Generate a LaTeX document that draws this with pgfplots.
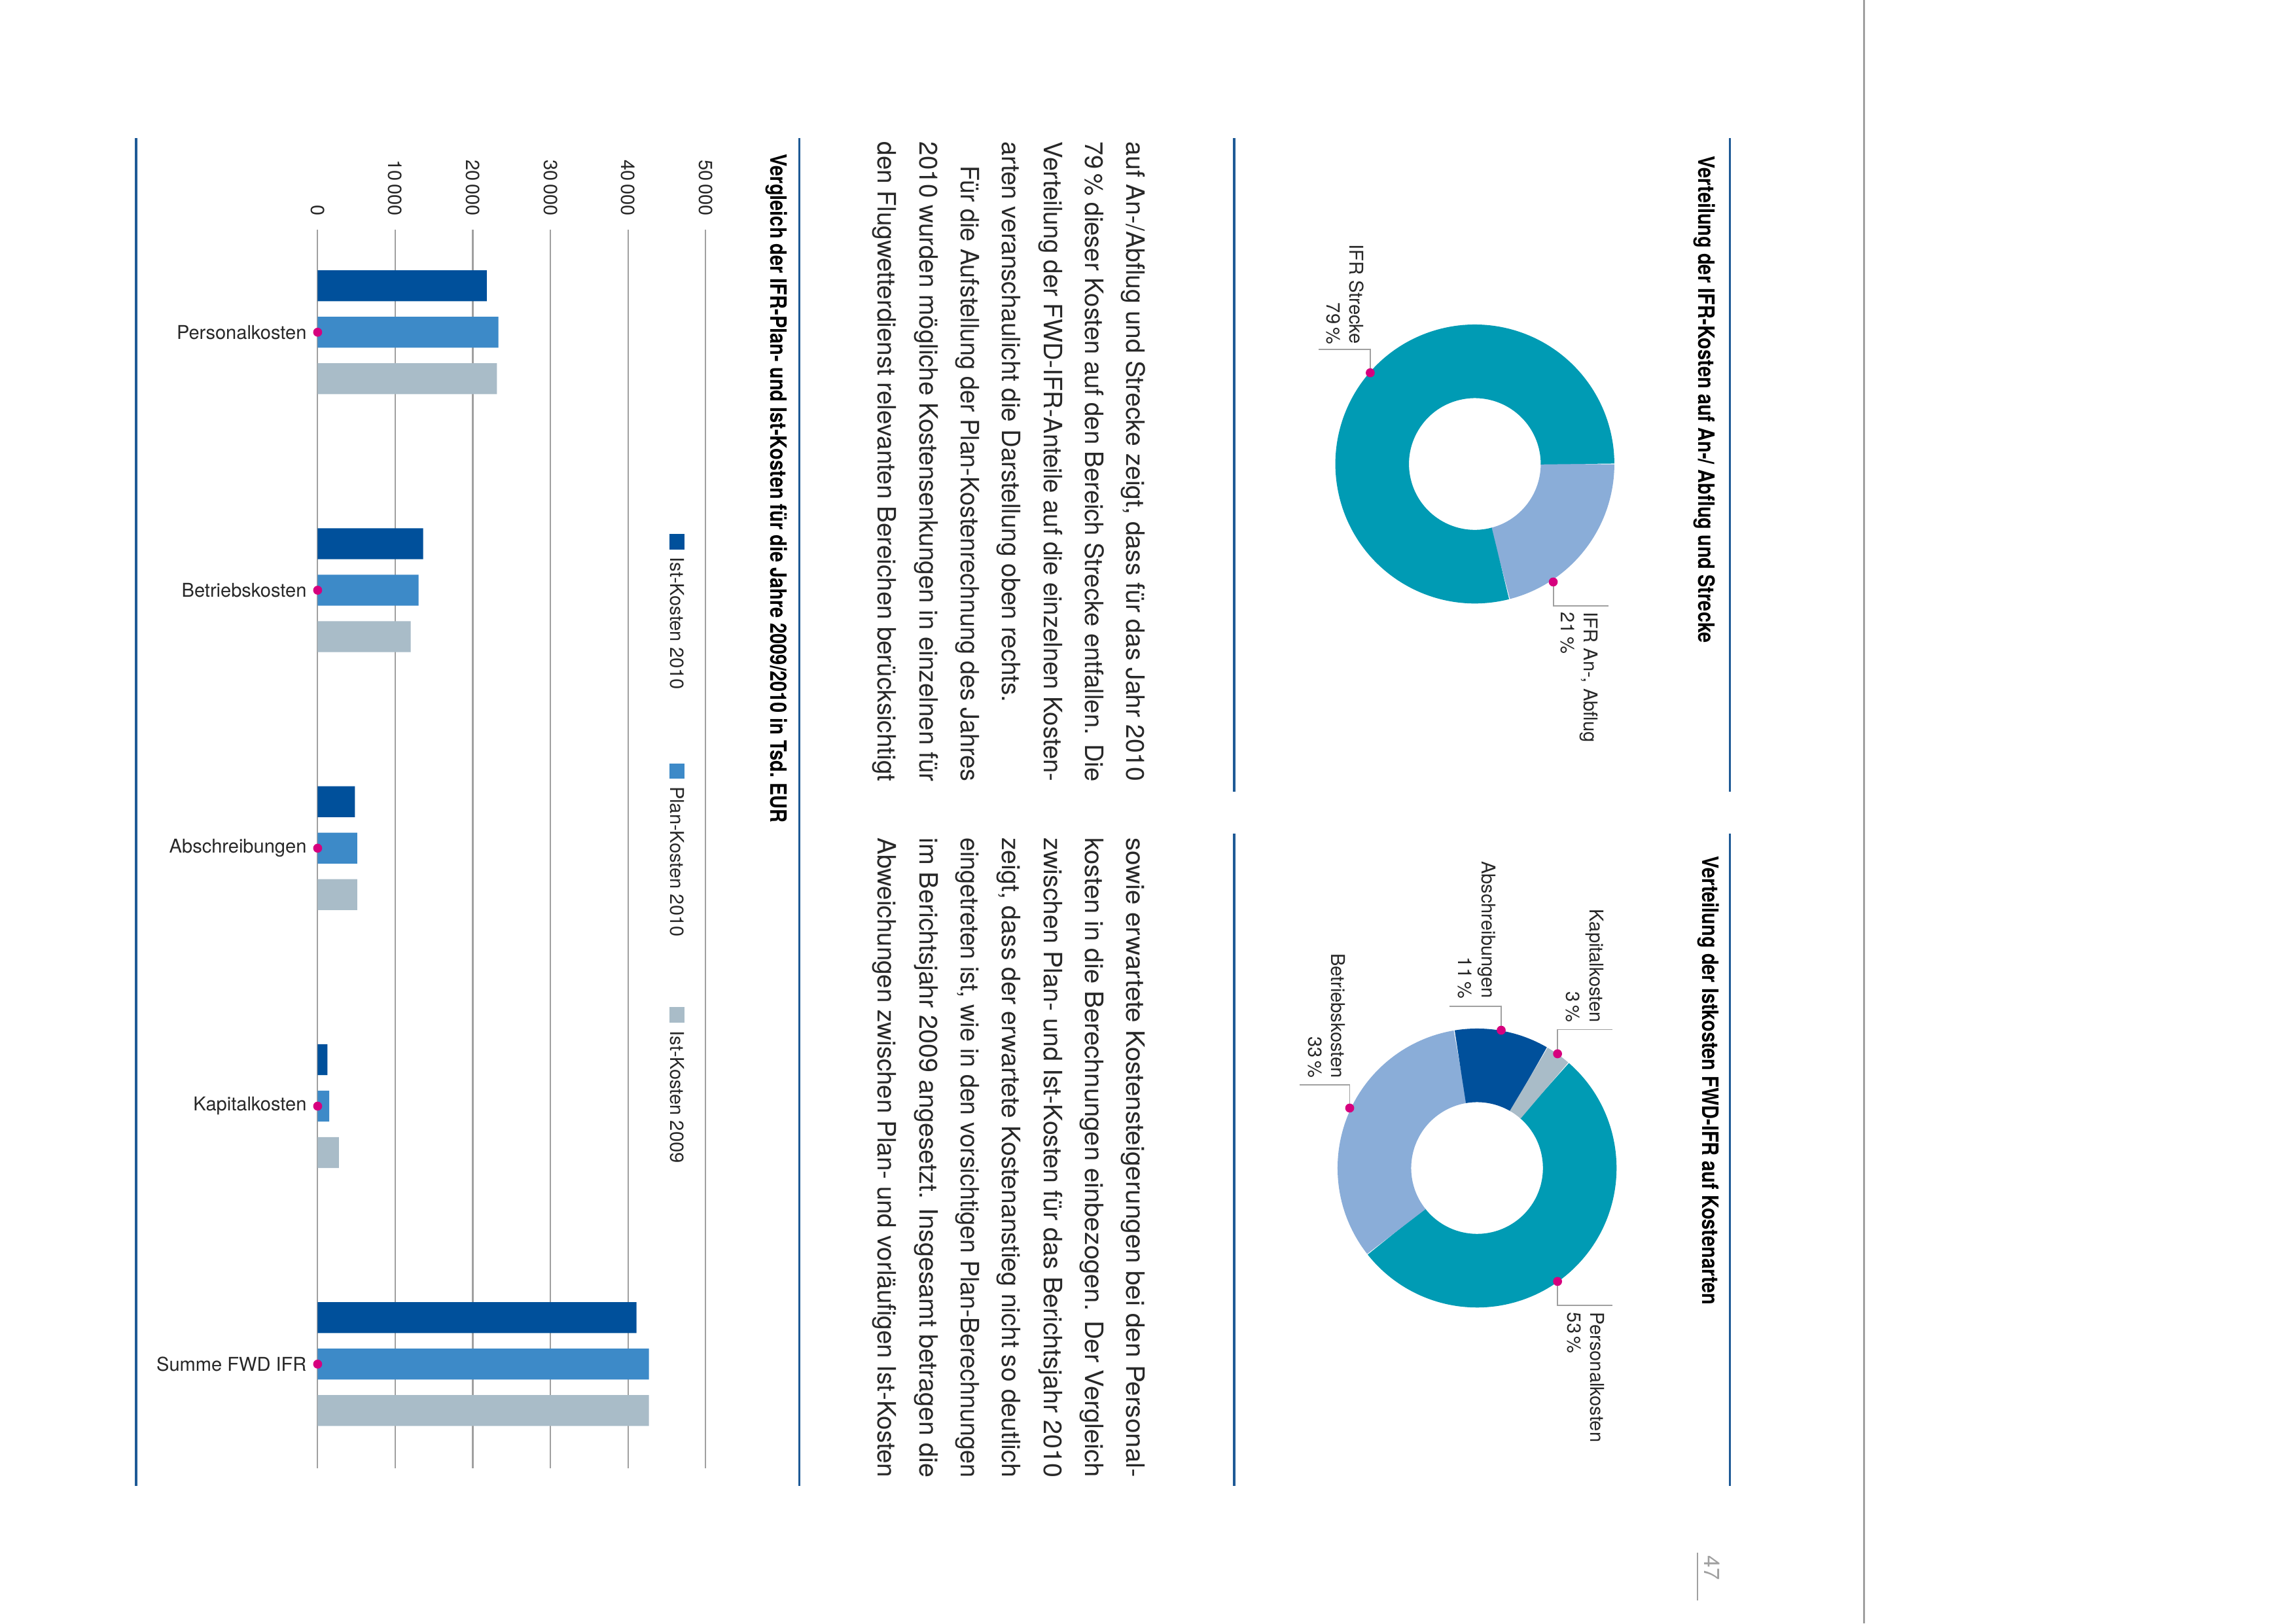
\documentclass[border=0pt]{standalone}
\usepackage{fontspec}
\setmainfont{TeX Gyre Heros}
\newfontfamily\condfont{TeX Gyre Heros}[FakeStretch=0.84]
\usepackage{graphicx}
\usepackage{pgfplots}
\pgfplotsset{compat=1.18}

\definecolor{darkblue}{RGB}{0,80,155}
\definecolor{midblue}{RGB}{61,138,200}
\definecolor{grayblue}{RGB}{169,188,200}
\definecolor{ifrteal}{RGB}{0,155,180}
\definecolor{lightblue}{RGB}{138,173,216}
\definecolor{dotpink}{RGB}{214,0,126}
\definecolor{rulecol}{RGB}{30,90,150}
\definecolor{linegray}{RGB}{160,160,160}
\definecolor{txt}{RGB}{40,40,40}

\def\H{1109.1}% page height in picture units; y below is measured from the top
\newlength\colw \setlength\colw{235.5pt}
\newcommand\bodyfont{\fontsize{9.3}{15.25}\selectfont}
\newcommand\smallfont{\fontsize{7}{8.6}\selectfont}
\newcommand\titlefont{\condfont\bfseries\fontsize{8.3}{10}\selectfont}

% one line of the body text: baseline x, start y, width, text
\newcommand\jline[4]{\node[rotate=-90,anchor=base west,inner sep=0pt,font=\bodyfont,text=txt] at (#1,\H-#2) {\resizebox{#3}{\height}{#4}};}
\newcommand\pline[3]{\node[rotate=-90,anchor=base west,inner sep=0pt,font=\bodyfont,text=txt] at (#1,\H-#2) {#3};}

% donut ring: start angle, list percent/colour (clockwise)
\newcommand\donutrings[2]{%
  \pgfplotsextra{%
    \xdef\angA{#1}%
    \foreach \p/\col in {#2}{%
      \pgfmathsetmacro\angB{\angA-3.6*\p}%
      \draw[\col,line width=27.1pt] (axis cs:0,0) ++(\angA:37.8pt)
        arc[start angle=\angA,end angle=\angB,radius=37.8pt];
      \xdef\angA{\angB}%
    }}}

\begin{document}
\begin{tikzpicture}[x=0.5389pt,y=0.5389pt,
  lab/.style={rotate=-90,inner sep=0pt,font=\smallfont,text=txt}]
\fill[white] (0,0) rectangle (1566.4,\H);
\path[use as bounding box] (0,0) rectangle (1566.4,\H);
\coordinate (donutA) at (1007.5,\H-317);
\coordinate (donutB) at (1009,\H-798);
\coordinate (barSW) at (217,\H-1003);

% rules
\begin{scope}[rulecol,line width=0.85pt]
  \draw (93,\H-94.5) -- (93,\H-1015);
  \draw (546,\H-94.5) -- (546,\H-1015);
  \draw (843,\H-94.5) -- (843,\H-541);
  \draw (843,\H-569.5) -- (843,\H-1015);
  \draw (1181.8,\H-94.5) -- (1181.8,\H-541);
  \draw (1181.8,\H-569.5) -- (1181.8,\H-1015);
\end{scope}
\draw[linegray,line width=0.8pt] (1273.3,0) -- (1273.3,\H);
\draw[linegray,line width=0.6pt] (1159.6,\H-1061) -- (1159.6,\H-1093.5);
\node[rotate=-90,anchor=west,inner sep=0pt,text=linegray,font=\fontsize{8}{9}\selectfont] at (1169.7,\H-1062.6) {47};

% titles
\node[rotate=-90,anchor=west,inner sep=0pt,font=\titlefont] at (1164.3,\H-106.3) {Verteilung der IFR-Kosten auf An-/ Abflug und Strecke};
\node[rotate=-90,anchor=west,inner sep=0pt,font=\titlefont] at (1166.8,\H-584.5) {Verteilung der Istkosten FWD-IFR auf Kostenarten};
\node[rotate=-90,anchor=west,inner sep=0pt,font=\titlefont] at (530.5,\H-105) {Vergleich der IFR-Plan- und Ist-Kosten für die Jahre 2009/2010 in Tsd.\ EUR};

% body text, column 1
\jline{769.6}{96.5}{\colw}{auf An-/Abflug und Strecke zeigt, dass für das Jahr 2010}
\jline{741.3}{96.5}{\colw}{79\,\% dieser Kosten auf den Bereich Strecke entfallen. Die}
\jline{713.1}{96.5}{\colw}{Verteilung der FWD-IFR-Anteile auf die einzelnen Kosten-}
\pline{684.7}{96.5}{arten veranschaulicht die Darstellung oben rechts.}
\jline{656.4}{112.9}{\dimexpr\colw-8.8pt\relax}{Für die Aufstellung der Plan-Kostenrechnung des Jahres}
\jline{628.1}{96.5}{\colw}{2010 wurden mögliche Kostensenkungen in einzelnen für}
\jline{599.8}{96.5}{\colw}{den Flugwetterdienst relevanten Bereichen berücksichtigt}
% column 2
\jline{769.6}{572}{\colw}{sowie erwartete Kostensteigerungen bei den Personal-}
\jline{741.3}{572}{\colw}{kosten in die Berechnungen einbezogen. Der Vergleich}
\jline{713.1}{572}{\colw}{zwischen Plan- und Ist-Kosten für das Berichtsjahr 2010}
\jline{684.7}{572}{\colw}{zeigt, dass der erwartete Kostenanstieg nicht so deutlich}
\jline{656.4}{572}{\colw}{eingetreten ist, wie in den vorsichtigen Plan-Berechnungen}
\jline{628.1}{572}{\colw}{im Berichtsjahr 2009 angesetzt. Insgesamt betragen die}
\jline{599.8}{572}{\colw}{Abweichungen zwischen Plan- und vorläufigen Ist-Kosten}

% leader lines of the donut labels
\begin{scope}[linegray,line width=0.4pt]
  \draw (936,\H-254.7) -- (936,\H-238.6) -- (900.7,\H-238.6);
  \draw (1061.1,\H-397.6) -- (1061.1,\H-414) -- (1098.8,\H-414);
  \draw (1064,\H-719.9) -- (1064,\H-703.4) -- (1101.4,\H-703.4);
  \draw (1025.5,\H-703.8) -- (1025.5,\H-687.4) -- (990.1,\H-687.4);
  \draw (922,\H-757) -- (922,\H-741.2) -- (888,\H-741.2);
  \draw (1064,\H-875.5) -- (1064,\H-891.7) -- (1101.4,\H-891.7);
\end{scope}
\node[lab,align=right,anchor=south east] at (905.5,\H-235.5) {IFR Strecke\\79\,\%};
\node[lab,align=left,anchor=north west] at (1092,\H-418) {IFR An-, Abflug\\21\,\%};
\node[lab,align=right,anchor=north east] at (1095.7,\H-699) {Kapitalkosten\\3\,\%};
\node[lab,align=right,anchor=south east] at (995.5,\H-682.5) {Abschreibungen\\11\,\%};
\node[lab,align=right,anchor=south east] at (893,\H-737) {Betriebskosten\\33\,\%};
\node[lab,align=left,anchor=north west] at (1096.5,\H-896.3) {Personalkosten\\53\,\%};

% legend of the bar chart
\fill[darkblue] (457.2,\H-364.8) rectangle (467.7,\H-375.3);
\fill[midblue] (457.2,\H-521.5) rectangle (467.7,\H-532);
\fill[grayblue] (457.2,\H-688.2) rectangle (467.7,\H-698.7);
\node[lab,anchor=west] at (462.5,\H-380.4) {Ist-Kosten 2010};
\node[lab,anchor=west] at (462.5,\H-537) {Plan-Kosten 2010};
\node[lab,anchor=west] at (462.5,\H-704) {Ist-Kosten 2009};

% donut: IFR An-/Abflug vs Strecke
\begin{axis}[at={(donutA)},anchor=center,scale only axis,
  width=102.7pt,height=102.7pt,xmin=-1,xmax=1,ymin=-1,ymax=1,
  hide axis,clip=false]
  \donutrings{0}{21/lightblue,79/ifrteal}
  \addplot[only marks,mark=*,mark size=1.45pt,dotpink] coordinates {(-0.750,0.654) (0.562,-0.846)};
\end{axis}

% donut: Istkosten by cost type
\begin{axis}[at={(donutB)},anchor=center,scale only axis,
  width=102.7pt,height=102.7pt,xmin=-1,xmax=1,ymin=-1,ymax=1,
  hide axis,clip=false]
  \donutrings{49}{53/ifrteal,33/lightblue,11/darkblue,3/grayblue}
  \addplot[only marks,mark=*,mark size=1.45pt,dotpink] coordinates {(0.577,0.819) (0.173,0.988) (-0.913,0.430) (0.577,-0.813)};
\end{axis}

% bar chart
\begin{axis}[at={(barSW)},anchor=south west,scale only axis,
  width=142.8pt,height=455.9pt,
  xmin=0,xmax=50000,ymin=-0.403,ymax=4.397,
  bar width=11.4pt,
  xtick={0,10000,...,50000},
  ytick={0,1,2,3,4},
  yticklabels={Summe FWD IFR,Kapitalkosten,Abschreibungen,Betriebskosten,Personalkosten},
  xticklabel pos=right,
  scaled x ticks=false,
  /pgf/number format/1000 sep={\,},
  /pgf/number format/assume math mode=true,
  xmajorgrids,
  major grid style={linegray,line width=0.5pt},
  axis line style={draw=none},
  major tick length=0pt,
  xticklabel style={rotate=-90,anchor=east,inner sep=0pt,font=\smallfont,text=txt},
  xticklabel shift=5pt,
  yticklabel style={anchor=east,inner sep=0pt,font=\smallfont,text=txt},
  yticklabel shift=3.9pt,
  clip=false,
]
\addplot[xbar,draw=none,fill=darkblue,bar shift=17.1pt] coordinates {(21800,4) (13600,3) (4800,2) (1260,1) (41100,0)};
\addplot[xbar,draw=none,fill=midblue,bar shift=0pt] coordinates {(23300,4) (13000,3) (5100,2) (1500,1) (42700,0)};
\addplot[xbar,draw=none,fill=grayblue,bar shift=-17.1pt] coordinates {(23100,4) (12000,3) (5100,2) (2740,1) (42700,0)};
\addplot[only marks,mark=*,mark size=1.45pt,dotpink] coordinates {(0,0) (0,1) (0,2) (0,3) (0,4)};
\end{axis}
\end{tikzpicture}
\end{document}
